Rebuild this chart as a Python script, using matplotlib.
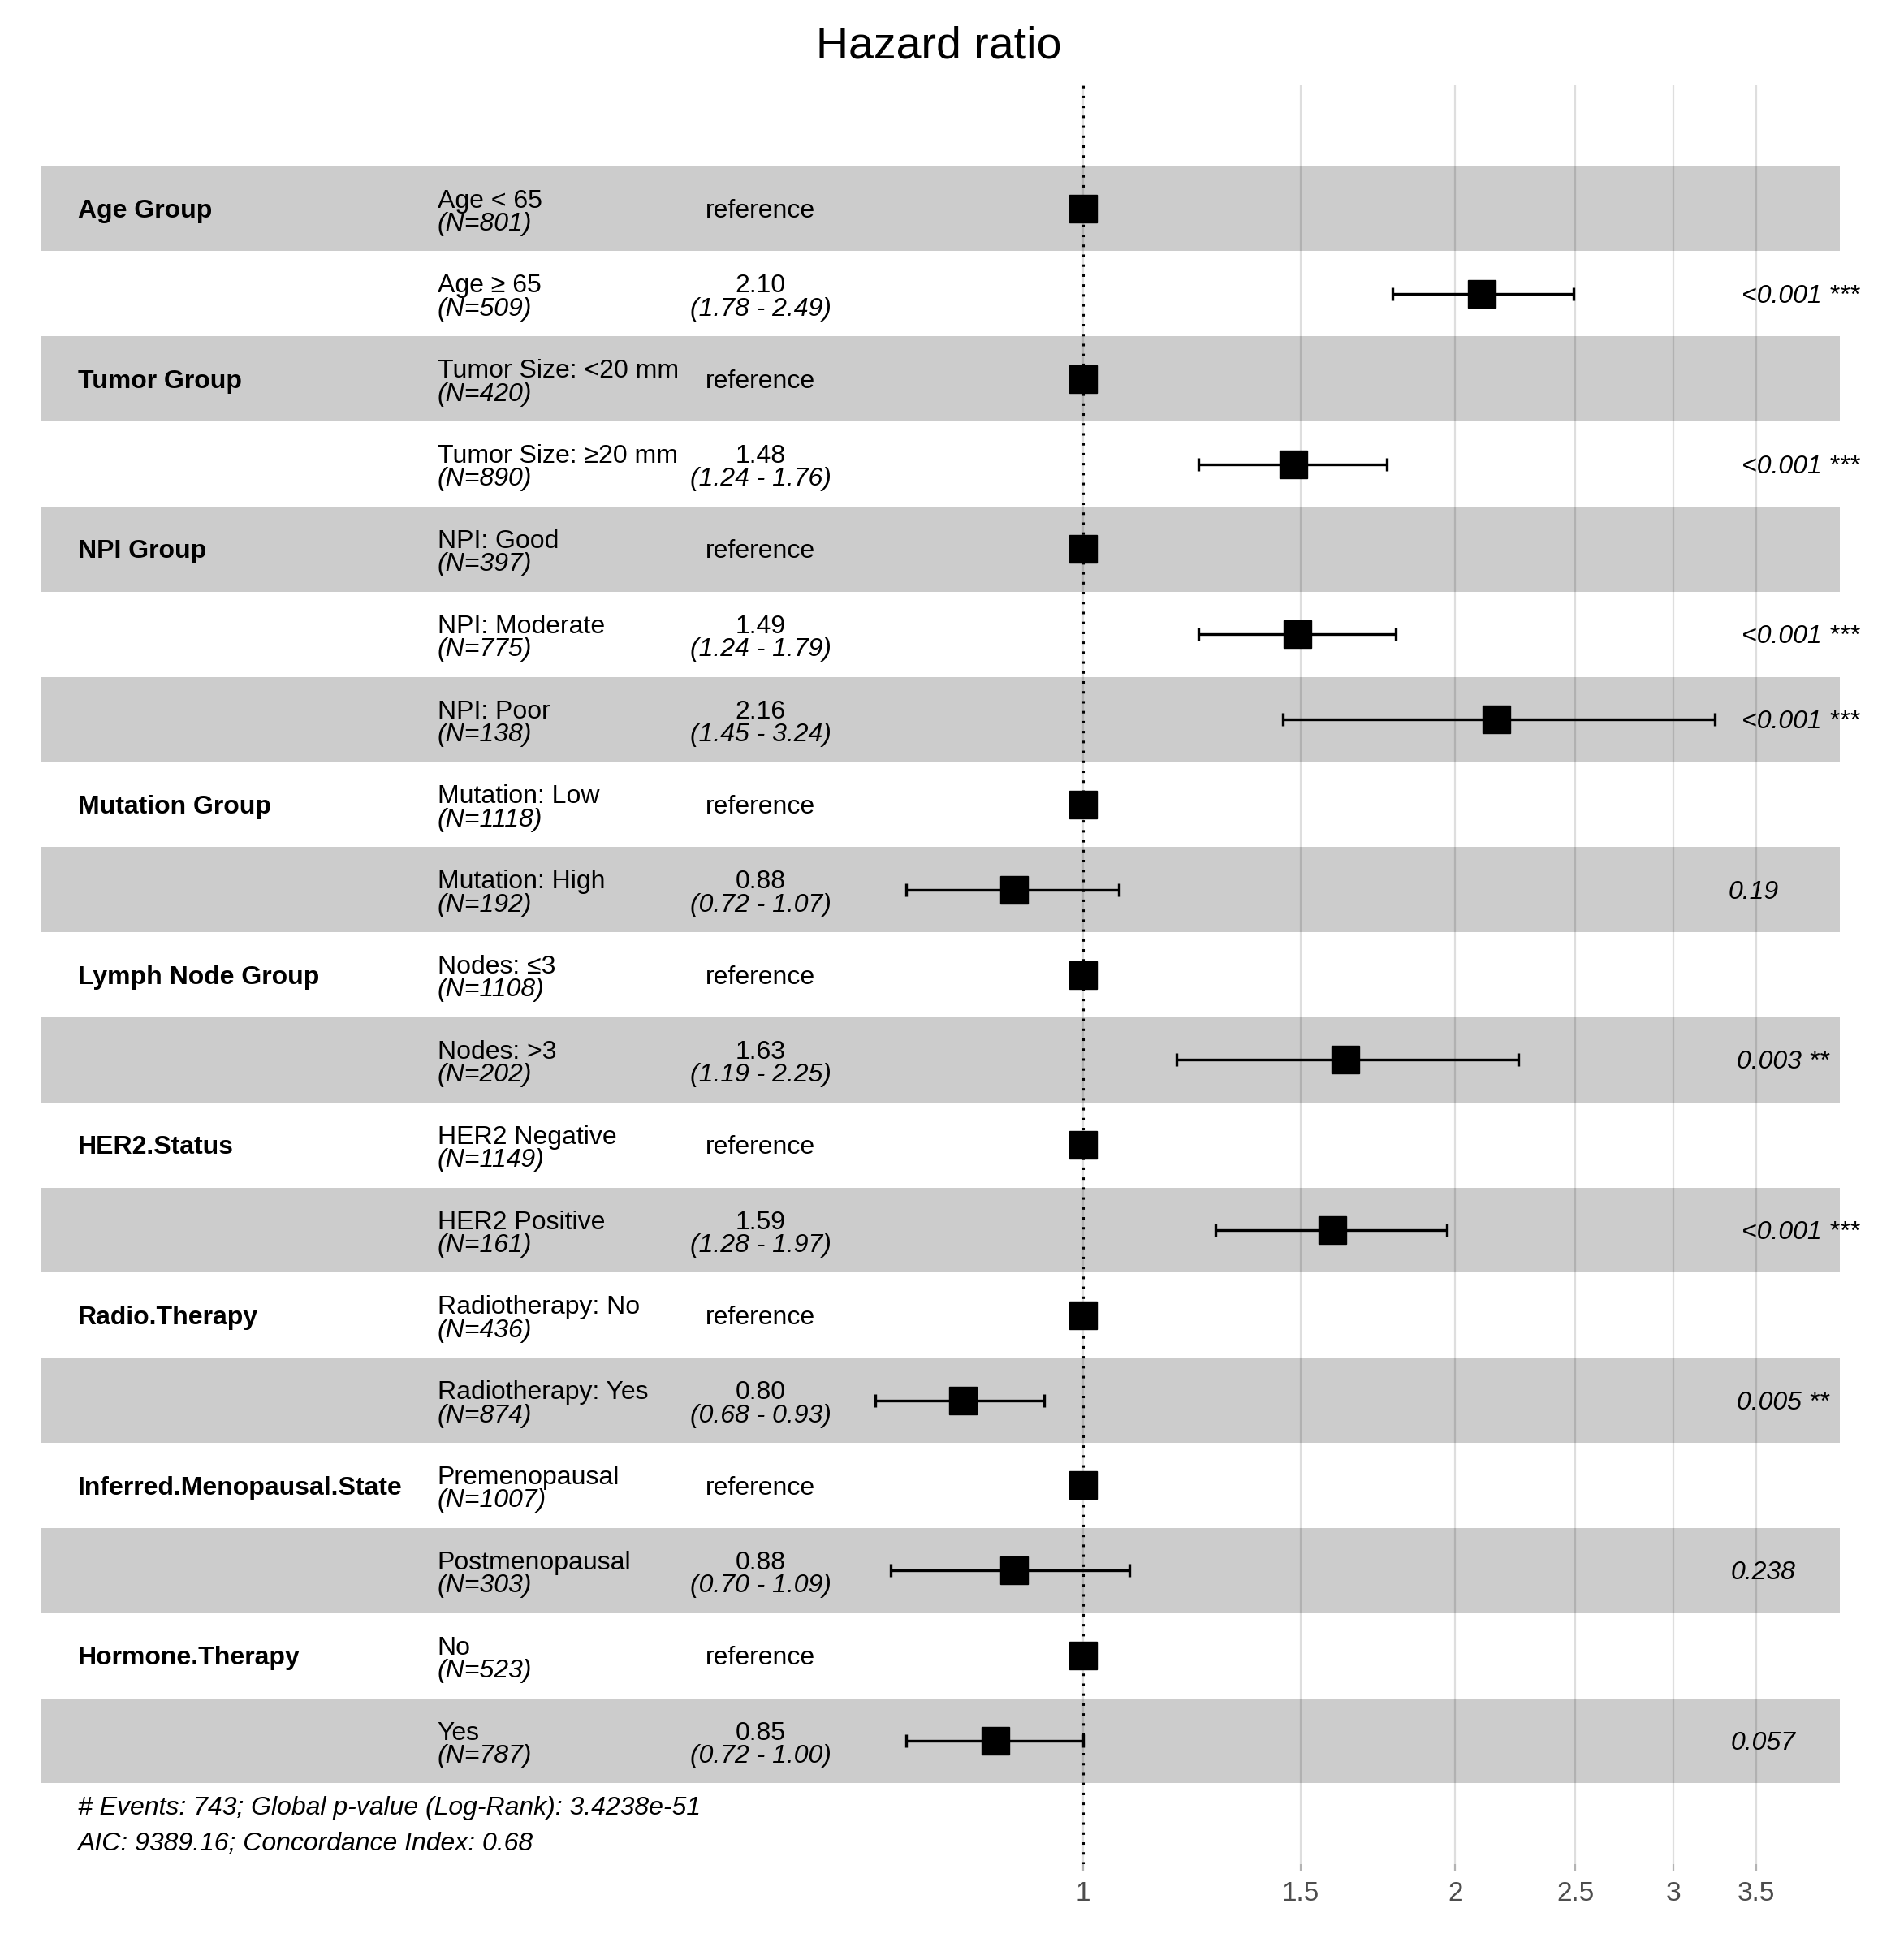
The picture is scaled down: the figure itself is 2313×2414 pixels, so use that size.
import numpy as np
import matplotlib
matplotlib.use("Agg")
import matplotlib.pyplot as plt
from matplotlib.ticker import NullLocator
from matplotlib.transforms import ScaledTranslation

plt.rcParams['font.family'] = ['Liberation Sans', 'DejaVu Sans']

# forest plot table, top row first
variables = ["Age Group", "", "Tumor Group", "", "NPI Group", "", "",
             "Mutation Group", "", "Lymph Node Group", "", "HER2.Status", "",
             "Radio.Therapy", "", "Inferred.Menopausal.State", "",
             "Hormone.Therapy", ""]
levels = ["Age < 65", "Age ≥ 65", "Tumor Size: <20 mm", "Tumor Size: ≥20 mm",
          "NPI: Good", "NPI: Moderate", "NPI: Poor",
          "Mutation: Low", "Mutation: High", "Nodes: ≤3", "Nodes: >3",
          "HER2 Negative", "HER2 Positive", "Radiotherapy: No", "Radiotherapy: Yes",
          "Premenopausal", "Postmenopausal", "No", "Yes"]
n_counts = [801, 509, 420, 890, 397, 775, 138, 1118, 192, 1108, 202,
            1149, 161, 436, 874, 1007, 303, 523, 787]
hazard = [1.00, 2.10, 1.00, 1.48, 1.00, 1.49, 2.16, 1.00, 0.88, 1.00, 1.63,
          1.00, 1.59, 1.00, 0.80, 1.00, 0.88, 1.00, 0.85]
nan = np.nan
ci_low = [nan, 1.78, nan, 1.24, nan, 1.24, 1.45, nan, 0.72, nan, 1.19,
          nan, 1.28, nan, 0.68, nan, 0.70, nan, 0.72]
ci_high = [nan, 2.49, nan, 1.76, nan, 1.79, 3.24, nan, 1.07, nan, 2.25,
           nan, 1.97, nan, 0.93, nan, 1.09, nan, 1.00]
p_labels = ["", "<0.001 ***", "", "<0.001 ***", "", "<0.001 ***", "<0.001 ***",
            "", "0.19", "", "0.003 **", "", "<0.001 ***", "", "0.005 **",
            "", "0.238", "", "0.057"]
breaks = [1, 1.5, 2, 2.5, 3, 3.5]

n_events = 743
global_p = "3.4238e-51"
aic = 9389.16
concordance = 0.68

W, H = 2313, 2414
fig = plt.figure(figsize=(W / 100, H / 100), dpi=100)
ax = fig.add_axes([6 / W, 1 - 2296 / H, 2306 / W, (2296 - 105) / H])
ax.set_xscale('log')
ax.set_xlim(0.1346, 4.384)
nrow = len(levels)
ax.set_ylim(-0.45, nrow + 1.45)

band_lo, band_hi = 0.1441, 4.092
var_x, level_x, est_x, star_x = 0.1541, 0.301, 0.549, 3.26
fs = 23
dy = -0.03  # small downward nudge of all table text

ys = np.arange(nrow, 0, -1)

# alternating bands
for i, y in enumerate(ys):
    if i % 2 == 0:
        ax.barh(y, band_hi - band_lo, left=band_lo, height=1.0,
                color='black', alpha=0.2, linewidth=0, zorder=1)

# grid and reference line
ax.set_axisbelow(True)
ax.grid(axis='x', color='#DEDEDE', linewidth=1.6)
ax.grid(axis='y', visible=False)
ax.axvline(1, color='black', linewidth=2.2, linestyle=(0, (1, 3)), zorder=3)

# estimates and intervals
hz = np.array(hazard)
lo = np.array(ci_low)
hi = np.array(ci_high)
has_ci = ~np.isnan(lo)
ax.errorbar(hz[has_ci], ys[has_ci], xerr=[hz[has_ci] - lo[has_ci], hi[has_ci] - hz[has_ci]],
            fmt='none', ecolor='black', elinewidth=2.4, capsize=5.6, capthick=2.4, zorder=4)
ax.plot(hz, ys, 's', color='black', markersize=25, zorder=5)

# table text
star_texts = []
for i, y in enumerate(ys):
    y = y + dy
    if variables[i]:
        ax.text(var_x, y, variables[i], fontsize=fs, fontweight='bold',
                ha='left', va='center', zorder=6)
    ax.text(level_x, y + 0.12, levels[i], fontsize=fs, ha='left', va='center', zorder=6)
    ax.text(level_x, y - 0.15, "(N=%d)" % n_counts[i], fontsize=fs, style='italic',
            ha='left', va='center', zorder=6)
    if np.isnan(lo[i]):
        ax.text(est_x, y, "reference", fontsize=fs, ha='center', va='center', zorder=6)
    else:
        ax.text(est_x, y + 0.12, "%.2f" % hazard[i], fontsize=fs,
                ha='center', va='center', zorder=6)
        ax.text(est_x, y - 0.15, "(%.2f - %.2f)" % (ci_low[i], ci_high[i]), fontsize=fs,
                style='italic', ha='center', va='center', zorder=6)
    if p_labels[i]:
        t = ax.text(star_x, y, p_labels[i], fontsize=fs, style='italic',
                    ha='left', va='center', zorder=6)
        star_texts.append(t)

# footer
ax.text(var_x, 0.5 - 0.29, "# Events: %d; Global p-value (Log-Rank): %s" % (n_events, global_p),
        fontsize=fs, style='italic', ha='left', va='center')
ax.text(var_x, 0.5 - 0.71, "AIC: %.2f; Concordance Index: %.2f" % (aic, concordance),
        fontsize=fs, style='italic', ha='left', va='center')

# axis
ax.set_xticks(breaks)
ax.set_xticklabels(["%g" % b for b in breaks])
ax.xaxis.set_minor_locator(NullLocator())
ax.set_yticks([])
ax.tick_params(axis='x', colors='#B3B3B3', length=6, width=1.6, pad=9,
               labelsize=24, labelcolor='#4D4D4D')
for s in ax.spines.values():
    s.set_visible(False)

fig.text(0.5, 1 - 58 / H, "Hazard ratio", ha='center', va='center', fontsize=40)

# hjust = -0.2 for p-value text
fig.canvas.draw()
r = fig.canvas.get_renderer()
for t in star_texts:
    w = t.get_window_extent(r).width
    t.set_transform(ax.transData + ScaledTranslation(0.2 * w / fig.dpi, 0, fig.dpi_scale_trans))

fig.savefig("out.png", dpi=100, facecolor='white')
